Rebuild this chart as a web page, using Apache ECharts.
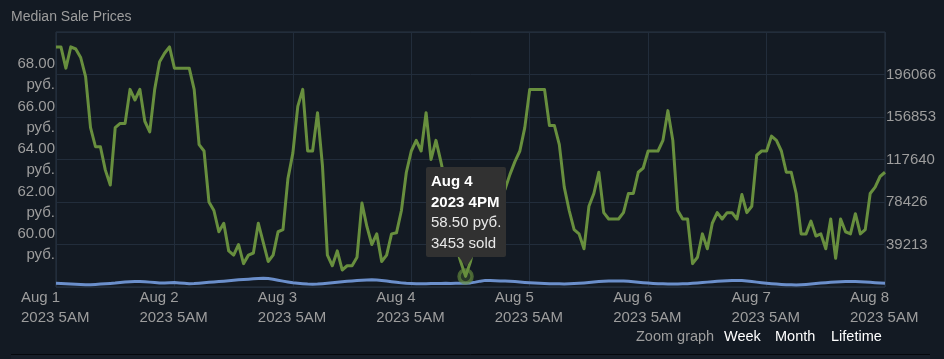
<!DOCTYPE html>
<html>
<head>
<meta charset="utf-8">
<script src="https://cdn.jsdelivr.net/npm/echarts@6/dist/echarts.min.js"></script>
<style>
  html, body { margin: 0; padding: 0; background: #131a23; }
  #chart { width: 944px; height: 359px; }
</style>
</head>
<body>
<div id="chart"></div>
<script>
// ---- data ----
const startUTC = Date.UTC(2023, 7, 1, 5); // Aug 1 2023 5AM, hourly points
const monthNames = ['Jan','Feb','Mar','Apr','May','Jun','Jul','Aug','Sep','Oct','Nov','Dec'];

const prices = [
  69.3, 69.3, 68.3, 69.3, 69.2, 68.8, 67.9, 65.5, 64.6, 64.6, 63.5, 62.8,
  65.5, 65.7, 65.7, 67.3, 66.8, 67.3, 65.8, 65.3, 67.3, 68.6, 69.0, 69.3,
  68.3, 68.3, 68.3, 68.3, 67.3, 64.7, 64.4, 62.0, 61.6, 60.6, 61.0, 59.7,
  59.5, 60.0, 59.1, 59.5, 59.6, 61.0, 60.1, 59.2, 59.5, 60.6, 60.7, 63.1,
  64.3, 66.5, 67.3, 64.4, 64.4, 66.2, 63.7, 59.5, 59.0, 59.7, 58.8, 59.0,
  59.0, 59.4, 61.95, 60.85, 60.0, 60.5, 59.2, 59.5, 60.5, 60.55, 61.6, 63.4,
  64.4, 64.9, 64.4, 66.2, 64.0, 64.9, 63.9, 62.8, 61.5, 60.0, 59.2, 58.5,
  59.2, 60.2, 60.8, 61.1, 61.6, 62.0, 62.3, 62.6, 63.3, 63.9, 64.4, 65.5,
  67.3, 67.3, 67.3, 67.3, 65.6, 65.6, 64.7, 62.7, 61.6, 60.7, 60.5, 59.8,
  61.8, 62.4, 63.4, 61.5, 61.2, 61.2, 61.2, 61.5, 62.4, 62.4, 63.4, 63.6,
  64.4, 64.4, 64.4, 64.9, 66.3, 64.9, 61.6, 61.2, 61.2, 59.1, 59.4, 60.5,
  59.8, 61.0, 61.5, 61.2, 61.5, 61.5, 61.2, 62.35, 61.5, 61.8, 64.2, 64.4,
  64.4, 65.1, 64.9, 64.4, 63.4, 63.4, 62.4, 60.5, 60.5, 61.1, 60.4, 60.5,
  59.8, 61.2, 59.35, 61.2, 60.6, 60.5, 61.45, 60.5, 60.7, 62.4, 62.7, 63.2,
  63.4
];

const volumes = [
  3500, 3300, 3100, 2800, 2500, 2200, 2000,
  2100, 2400, 2800, 3000, 3300, 3600,
  4200, 4600, 4900, 5100, 5000, 4800, 4500, 4200,
  3800, 3700, 3900, 4100, 3800, 3400, 3100,
  3200, 3500, 3900, 4300, 4700, 5000, 5400, 5800,
  6200, 6600, 6900, 7200, 7600, 7900, 8100,
  7800, 7200, 6300, 5400, 4600, 3900, 3400,
  3000, 2700, 2600, 2700, 3000, 3400, 3900,
  4300, 4800, 5200, 5600, 5900, 6200, 6400, 6600,
  6500, 6100, 5500, 4900, 4300, 3800, 3400, 3200,
  3100, 3000, 3100, 3200, 3300, 3300, 3400, 3300, 3400, 3500,
  3453,
  3800, 4500, 5400, 6100, 6000, 5800, 5600, 5500, 5300,
  5000, 4600, 4200, 3900, 3600, 3400, 3200, 3000, 2900, 2900, 2800,
  3000, 3200, 3500, 3800, 4200, 4600, 5000, 5300, 5500, 5600, 5600, 5500,
  5200, 4800, 4400, 4000, 3600, 3300, 3100, 2900, 2800, 2800, 2800, 2900,
  3100, 3400, 3700, 4100, 4500, 4900, 5300, 5600, 5800, 6000, 6000, 5900,
  5500, 5000, 4500, 4000, 3500, 3100, 2700, 2400, 2100, 2000, 1900,
  2100, 2400, 2800, 3200, 3600, 3900, 4300, 4600, 4800, 5000, 5100, 5100,
  4900, 4600, 4300, 4000, 3700, 3500
];

const highlightIndex = 83;           // Aug 4 2023 4PM
const priceTicks = [60, 62, 64, 66, 68];
const volumeStep = 39213.2;
const zoomLinks = ['Week', 'Month', 'Lifetime'];

// ---- derived categories (hourly timestamps) ----
function hourText(h) { const hh = h % 12 === 0 ? 12 : h % 12; return hh + (h < 12 ? 'AM' : 'PM'); }
const dayLabels = [], timeLabels = [], categories = [];
for (let i = 0; i < prices.length; i++) {
  const d = new Date(startUTC + i * 3600000);
  dayLabels.push(monthNames[d.getUTCMonth()] + ' ' + d.getUTCDate());
  timeLabels.push(d.getUTCFullYear() + ' ' + hourText(d.getUTCHours()));
  categories.push(String(i));
}

const FONT = '"Liberation Sans", Arial, sans-serif';
const LABEL = '#9d9d9d';
const GRID = '#222d3b';

const chart = echarts.init(document.getElementById('chart'));
chart.setOption({
  backgroundColor: '#131a23',
  animation: false,
  textStyle: { fontFamily: FONT },
  title: {
    text: 'Median Sale Prices', left: 6, top: 5,
    textStyle: { color: LABEL, fontSize: 14, fontWeight: 'normal', fontFamily: FONT }
  },
  grid: { left: 56, top: 32, width: 829, height: 255, show: true, borderColor: '#2a3543', borderWidth: 1, backgroundColor: 'transparent' },
  tooltip: {
    trigger: 'item', triggerOn: 'none', alwaysShowContent: true, transitionDuration: 0,
    backgroundColor: '#313131', borderWidth: 0, borderRadius: 2, padding: [4, 5, 4, 5],
    extraCssText: 'box-shadow:none;line-height:20.5px;',
    textStyle: { color: '#e8e8e8', fontSize: 15, fontFamily: FONT },
    position: function (point, params, dom, rect, size) {
      return [point[0] - size.contentSize[0] / 2, point[1] - size.contentSize[1] - 19];
    },
    formatter: function () {
      const i = highlightIndex;
      return '<div style="color:#fff;font-weight:bold">' + dayLabels[i] + '</div>' +
             '<div style="color:#fff;font-weight:bold">' + timeLabels[i] + '</div>' +
             '<div>' + prices[i].toFixed(2) + ' руб.</div>' +
             '<div>' + volumes[i] + ' sold</div>' +
             '<div style="position:absolute;left:50%;margin-left:-7px;bottom:-10px;width:0;height:0;' +
             'border-left:7px solid transparent;border-right:7px solid transparent;border-top:10px solid #313131"></div>';
    }
  },
  xAxis: {
    type: 'category', data: categories, boundaryGap: false,
    axisLine: { show: false }, axisTick: { show: false },
    axisLabel: {
      interval: function (idx) { return idx % 24 === 0; },
      margin: 1,
      formatter: function (v, idx) { const i = +v; return '{a|' + dayLabels[i] + '}\n{a|' + timeLabels[i] + '}'; },
      rich: { a: { width: 70, align: 'left', fontSize: 15, lineHeight: 20, color: LABEL, fontFamily: FONT } }
    },
    splitLine: { show: true, interval: function (idx) { return idx % 24 === 0; }, lineStyle: { color: GRID, width: 1 } }
  },
  yAxis: [
    {
      type: 'value', min: 58, max: 70, interval: 2, position: 'left',
      axisLine: { show: false }, axisTick: { show: false },
      axisLabel: {
        color: LABEL, fontSize: 15, lineHeight: 21, margin: 1, fontFamily: FONT,
        formatter: function (v) { return priceTicks.indexOf(v) >= 0 ? v.toFixed(2) + '\nруб.' : ''; }
      },
      splitLine: { show: true, lineStyle: { color: GRID, width: 1 } }
    },
    {
      type: 'value', min: 0, max: volumeStep * 6, interval: volumeStep, position: 'right',
      axisLine: { show: false }, axisTick: { show: false },
      axisLabel: {
        color: LABEL, fontSize: 15, margin: 1, fontFamily: FONT,
        formatter: function (v) { return (v > 1 && v < volumeStep * 5.5) ? String(Math.round(v)) : ''; }
      },
      splitLine: { show: false }
    }
  ],
  series: [
    {
      name: 'volume', type: 'line', yAxisIndex: 1, data: volumes, symbol: 'none',
      lineStyle: { color: '#6b8fcb', width: 3, join: 'round' }, z: 2
    },
    {
      name: 'price', type: 'line', yAxisIndex: 0, data: prices, symbol: 'none',
      lineStyle: { color: '#688f3e', width: 3, join: 'round' }, z: 3
    },
    {
      name: 'highlight', type: 'scatter', yAxisIndex: 0,
      data: [[highlightIndex, prices[highlightIndex]]],
      symbol: 'circle', symbolSize: 13,
      itemStyle: { color: 'rgba(104,143,62,0.3)', borderColor: 'rgba(104,143,62,0.8)', borderWidth: 3.5 },
      z: 4
    }
  ],
  graphic: [
    { type: 'text', left: 636, top: 329, style: { text: 'Zoom graph', fill: LABEL, font: '14.5px ' + FONT } },
    { type: 'text', left: 724, top: 329, style: { text: zoomLinks[0], fill: '#ffffff', font: '14.5px ' + FONT } },
    { type: 'text', left: 775, top: 329, style: { text: zoomLinks[1], fill: '#ffffff', font: '14.5px ' + FONT } },
    { type: 'text', left: 831, top: 329, style: { text: zoomLinks[2], fill: '#ffffff', font: '14.5px ' + FONT } },
    { type: 'rect', left: 11, top: 354, shape: { width: 919, height: 5 }, style: { fill: '#171e28' } },
    { type: 'line', shape: { x1: 11, y1: 354.5, x2: 930, y2: 354.5 }, style: { stroke: '#05080c', lineWidth: 1 } }
  ]
});
chart.dispatchAction({ type: 'showTip', seriesIndex: 2, dataIndex: 0 });
</script>
</body>
</html>
